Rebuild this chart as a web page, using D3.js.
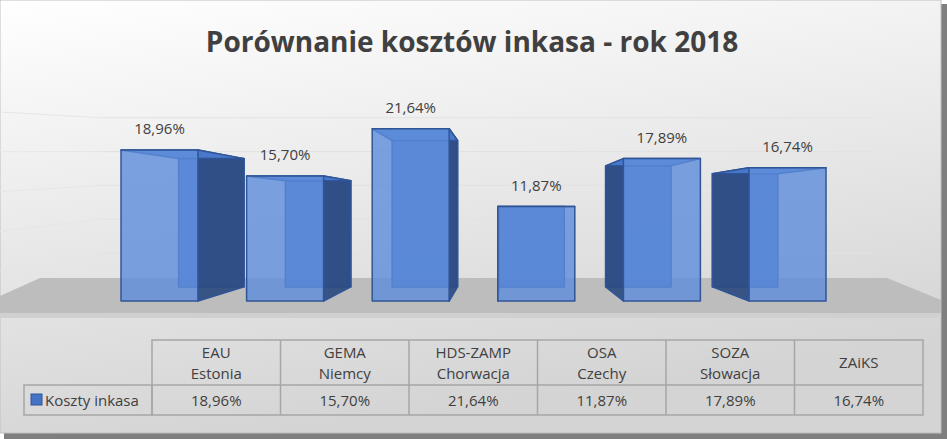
<!DOCTYPE html>
<html>
<head>
<meta charset="utf-8">
<script src="https://cdn.jsdelivr.net/npm/d3@7"></script>
<style>
  body { margin: 0; background: #fff; }
  svg text { font-family: "Open Sans", "Noto Sans", sans-serif; fill: #404040; }
</style>
</head>
<body>
<script>
let categories = ['EAU', 'GEMA', 'HDS-ZAMP', 'OSA', 'SOZA', 'ZAiKS']
let subLabels = ['Estonia', 'Niemcy', 'Chorwacja', 'Czechy', 'Słowacja', '']
let values = [18.96, 15.70, 21.64, 11.87, 17.89, 16.74]
let seriesName = 'Koszty inkasa'
let gridTicks = [0, 5, 10, 15, 20, 25]

let fmt = v => v.toFixed(2).replace('.', ',') + '%'

function main () {
  let W = 947, H = 439
  let svg = d3.select('body').append('svg').attr('width', W).attr('height', H)
  let defs = svg.append('defs')

  let bg = defs.append('linearGradient').attr('id', 'bg')
    .attr('x1', 0).attr('y1', 0).attr('x2', 0.3).attr('y2', 1)
  bg.append('stop').attr('offset', 0).attr('stop-color', '#ffffff')
  bg.append('stop').attr('offset', 1).attr('stop-color', '#d4d4d4')

  // shadow + chart area
  svg.append('rect').attr('x', 4).attr('y', 4).attr('width', W - 4).attr('height', H - 4).attr('fill', '#7f7f7f')
  svg.append('rect').attr('x', 0).attr('y', 0).attr('width', W - 6).attr('height', H - 6)
    .attr('fill', 'url(#bg)').attr('stroke', '#bfbfbf')

  svg.append('text').attr('x', 472).attr('y', 52).attr('text-anchor', 'middle')
    .style('font-size', '28px').style('font-weight', 'bold').text('Porównanie kosztów inkasa - rok 2018')

  // perspective
  let vp = {x: 505, y: 207}
  let s = 0.15
  let back = p => [p[0] + (vp.x - p[0]) * s, p[1] + (vp.y - p[1]) * s]

  let x = d3.scaleBand().domain(categories).range([121, 826]).paddingInner(0.387).paddingOuter(0)
  let y = d3.scaleLinear().domain([0, 25]).range([301, 102])

  let x0 = 30, x1 = 935
  svg.append('g').selectAll('line').data(gridTicks.slice(1)).join('line')
    .attr('x1', d => back([x0, y(d)])[0]).attr('x2', d => back([x1, y(d)])[0])
    .attr('y1', d => back([x0, y(d)])[1]).attr('y2', d => back([x1, y(d)])[1])
    .attr('stroke', '#e2e2e2').attr('stroke-width', 1.2)
  svg.append('g').selectAll('line').data(gridTicks.slice(1)).join('line')
    .attr('x1', 0).attr('x2', d => back([x0, y(d)])[0])
    .attr('y1', d => y(d) + 10).attr('y2', d => back([x0, y(d)])[1])
    .attr('stroke', '#e6e6e6')

  // floor
  let floor = [[40, 278], [W - 60, 278], [W - 6, 300], [W - 6, 318], [0, 318], [0, 296]]
  svg.append('polygon').attr('points', floor.join(' ')).attr('fill', '#bdbdbd')
  svg.append('rect').attr('x', 0).attr('y', 313).attr('width', W - 6).attr('height', 5).attr('fill', '#d0d0d0')

  // bars
  let barG = svg.append('g')
  categories.forEach((c, i) => {
    let l = x(c), r = l + x.bandwidth(), t = y(values[i]), b = y(0)
    let F = {lt: [l, t], rt: [r, t], rb: [r, b], lb: [l, b]}
    let B = {lt: back(F.lt), rt: back(F.rt), rb: back(F.rb), lb: back(F.lb)}
    let g = barG.append('g')
    let face = (pts, fill, op) => g.append('polygon').attr('points', pts.join(' '))
      .attr('fill', fill).attr('fill-opacity', op)
      .attr('stroke', '#2f5597').attr('stroke-width', 1.5).attr('stroke-linejoin', 'round')
    face([B.lt, B.rt, B.rb, B.lb], '#4472c4', 0.9)
    let cx = l + x.bandwidth() / 2
    if (cx < vp.x) face([F.rt, B.rt, B.rb, F.rb], '#2c4b80', 0.92)
    else face([B.lt, F.lt, F.lb, B.lb], '#2c4b80', 0.92)
    face([F.lt, F.rt, B.rt, B.lt], '#4a7bd0', 0.9)
    face([F.lt, F.rt, F.rb, F.lb], '#5c8cdb', 0.8)
    svg.append('text').attr('x', cx).attr('y', t - 16).attr('text-anchor', 'middle')
      .style('font-size', '15px').text(fmt(values[i]))
  })

  // data table
  let cols = d3.scaleBand().domain(categories).range([152, 923])
  let rowTop = 340, rowMid = 385, rowBot = 415
  let tbl = svg.append('g').attr('stroke', '#a6a6a6').attr('stroke-width', 1.5).attr('fill', 'none')
  tbl.append('rect').attr('x', 152).attr('y', rowTop).attr('width', 771).attr('height', rowBot - rowTop)
  tbl.append('rect').attr('x', 24).attr('y', rowMid).attr('width', 128).attr('height', rowBot - rowMid)
  tbl.append('line').attr('x1', 152).attr('x2', 923).attr('y1', rowMid).attr('y2', rowMid)
  tbl.selectAll('.v').data(categories.slice(1)).join('line')
    .attr('x1', d => cols(d)).attr('x2', d => cols(d)).attr('y1', rowTop).attr('y2', rowBot)

  categories.forEach((c, i) => {
    let cx = cols(c) + cols.bandwidth() / 2
    if (subLabels[i]) {
      svg.append('text').attr('x', cx).attr('y', 358).attr('text-anchor', 'middle').style('font-size', '15px').text(c)
      svg.append('text').attr('x', cx).attr('y', 379).attr('text-anchor', 'middle').style('font-size', '15px').text(subLabels[i])
    } else {
      svg.append('text').attr('x', cx).attr('y', 368).attr('text-anchor', 'middle').style('font-size', '15px').text(c)
    }
    svg.append('text').attr('x', cx).attr('y', 406).attr('text-anchor', 'middle').style('font-size', '15px').text(fmt(values[i]))
  })
  svg.append('rect').attr('x', 31).attr('y', 394).attr('width', 11).attr('height', 11)
    .attr('fill', '#4472c4').attr('stroke', '#2f5597')
  svg.append('text').attr('x', 45).attr('y', 406).style('font-size', '15px').text(seriesName)
}

main()
</script>
</body>
</html>
